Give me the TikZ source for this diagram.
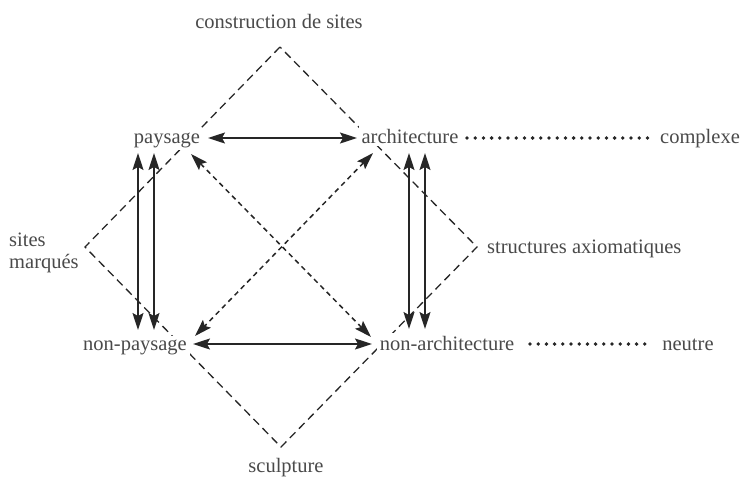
\documentclass[tikz,border=0pt]{standalone}
\usepackage{fontspec}
\setmainfont{Liberation Serif}
\usetikzlibrary{arrows.meta,calc}
\definecolor{txt}{HTML}{4A4A4A}
\definecolor{ln}{HTML}{262626}
\begin{document}
\begin{tikzpicture}[x=1pt,y=-1pt,
  lbl/.style={text=txt,font=\fontsize{20.5}{23}\selectfont,inner sep=3pt,fill=white,anchor=base},
  diam/.style={draw=ln,line width=1.3pt,dash pattern=on 8pt off 5pt},
  tip/.style={},
  arr/.style={draw=ln,line width=1.5pt,{Stealth[length=17pt,width=11pt,inset=3pt]}-{Stealth[length=17pt,width=11pt,inset=3pt]}},
  darr/.style={arr,dash pattern=on 5pt off 4pt},
  dots/.style={draw=ln,line width=3.8pt,line cap=round,dash pattern=on 0pt off 8.2pt}]
\useasboundingbox (0,0) rectangle (740,477);
% diamond
\coordinate (T) at (280,47);
\coordinate (L) at (85,247);
\coordinate (B) at (281,447);
\coordinate (R) at (477,247);
\draw[diam] (T) -- (L) -- (B) -- (R) -- cycle;
% labels
\node[lbl] (cs) at (279,28) {construction de sites};
\node[lbl] (P) at (167,143) {paysage};
\node[lbl] (A) at (410,143) {architecture};
\node[lbl] (cx) at (700,143) {complexe};
\node[lbl,align=left,anchor=north west,fill=none] (sm) at (6,230) {sites\\[-1pt]marqués};
\node[lbl,anchor=base west] (sa) at (484,253) {structures axiomatiques};
\node[lbl] (NP) at (135,350) {non-paysage};
\node[lbl] (NA) at (447,350) {non-architecture};
\node[lbl] (ne) at (688,350) {neutre};
\node[lbl] (sc) at (286,472) {sculpture};
% arrow ends
\coordinate (Pe) at (208,138); \coordinate (Aw) at (357,138);
\coordinate (NPe) at (193,344); \coordinate (NAw) at (372,344);
\coordinate (Pd) at (191,154); \coordinate (NAd) at (371,337);
\coordinate (Ad) at (373,153); \coordinate (NPd) at (195,336);
% horizontal
\draw[arr] (Pe) -- (Aw);
\draw[arr] (NPe) -- (NAw);
% diagonals
\draw[darr] (Pd) -- (NAd);
\draw[darr] (Ad) -- (NPd);
% verticals
\draw[arr] (138,153) coordinate (v1a) -- (138,330) coordinate (v1b);
\draw[arr] (154,153) coordinate (v2a) -- (154,330) coordinate (v2b);
\draw[arr] (409,153) coordinate (v3a) -- (409,329) coordinate (v3b);
\draw[arr] (425,153) coordinate (v4a) -- (425,329) coordinate (v4b);
% dotted
\draw[dots] (467,138) -- (652,138);
\draw[dots] (530,344) -- (652,344);
\end{tikzpicture}
\end{document}
